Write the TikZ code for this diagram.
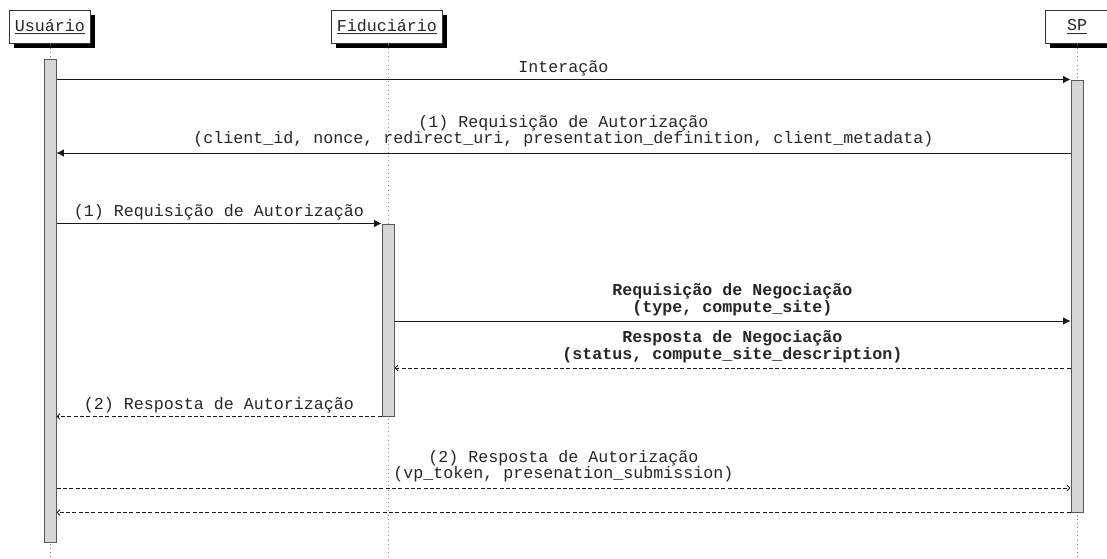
\documentclass[tikz,border=0pt]{standalone}
\usepackage{fontspec}
\setmainfont{Liberation Mono}
\usepackage{tikz}
\usetikzlibrary{positioning,arrows.meta,shadows,fit}
\def\barwidth{7.2pt}
\def\actorheight{19.5pt}
\tikzstyle{actor}=[draw=black!80, fill=white, line width=0.6pt,
    inner sep=3.3pt, minimum width=38pt, minimum height=\actorheight,
    font=\fontsize{10}{10}\selectfont, text=black!85,
    drop shadow={shadow xshift=2.6pt, shadow yshift=-2.8pt, fill=black, opacity=1}]
\tikzstyle{lifeline}=[draw=black!45, dotted, line width=0.5pt]
\tikzstyle{actbar}=[draw=black!65, fill=black!16, line width=0.6pt,
    inner sep=0pt, minimum width=\barwidth]
\tikzstyle{call}=[arrows={-Latex[length=4.4pt,width=4.6pt]}, draw=black!90, line width=0.6pt]
\tikzstyle{reply}=[arrows={-Straight Barb[length=1.8pt,width=3.4pt]}, draw=black!90,
    line width=0.5pt, dash pattern=on 2.4pt off 1.4pt]
\tikzstyle{msg}=[text=black!85, font=\fontsize{10}{9.6}\selectfont,
    align=center, inner sep=2pt, midway, above]
\tikzstyle{boldmsg}=[style=msg, font=\fontsize{10}{9.8}\selectfont\bfseries]

\begin{document}
\begin{tikzpicture}[x=0.6pt, y=-0.6pt]
    \useasboundingbox (0,0) rectangle (1107,559);
    \node[actor] (user) at (50,27) {\underline{Usuário}};
    \node[actor] (fid) at (387,27) {\underline{Fiduciário}};
    \node[actor] (sp) at (1077,27) {\underline{SP}};
    \draw[lifeline] (user.south) -- (user |- 0,559);
    \draw[lifeline] (fid.south -| 388,0) -- (388,559);
    \draw[lifeline] (sp.south) -- (sp |- 0,559);
    \node[actbar, fit={(50,59) (50,542)}] (userbar) {};
    \node[actbar, fit={(388,224) (388,416)}] (fidbar) {};
    \node[actbar, fit={(1077,80) (1077,512)}] (spbar) {};
    \draw[call] (userbar.east |- spbar.north) -- (spbar.north west)
        node[msg] {Interação};
    \draw[call] (spbar.west |- 0,153) -- (userbar.east |- 0,153)
        node[msg, inner sep=3.5pt] {(1) Requisição de Autorização\\(client\_id, nonce, redirect\_uri, presentation\_definition, client\_metadata)};
    \draw[call] (userbar.east |- fidbar.north) -- (fidbar.north west)
        node[msg] {(1) Requisição de Autorização};
    \draw[call] (fidbar.east |- 0,321) -- (spbar.west |- 0,321)
        node[boldmsg, inner sep=3pt] {Requisição de Negociação\\(type, compute\_site)};
    \draw[reply] (spbar.west |- 0,368) -- (fidbar.east |- 0,368)
        node[boldmsg, inner sep=3pt] {Resposta de Negociação\\(status, compute\_site\_description)};
    \draw[reply] (fidbar.south west) -- (userbar.east |- fidbar.south)
        node[msg] {(2) Resposta de Autorização};
    \draw[reply] (userbar.east |- 0,488) -- (spbar.west |- 0,488)
        node[msg, inner sep=3.5pt] {(2) Resposta de Autorização\\(vp\_token, presenation\_submission)};
    \draw[reply] (spbar.south west) -- (userbar.east |- spbar.south);
\end{tikzpicture}
\end{document}
